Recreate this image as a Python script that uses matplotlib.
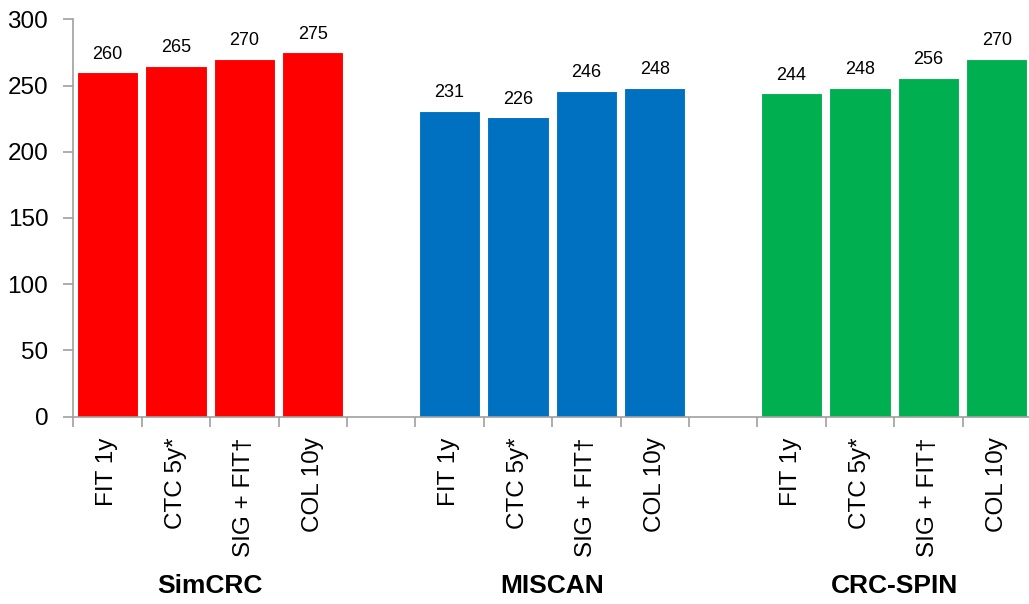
import matplotlib
matplotlib.use("Agg")
import matplotlib.pyplot as plt
import matplotlib.transforms as mtransforms
import numpy as np

plt.rcParams['font.family'] = ['Liberation Sans', 'DejaVu Sans']

# Strategy labels shared by every model
strategies = ["FIT 1y", "CTC 5y*", "SIG + FIT\u2020", "COL 10y"]
models = ["SimCRC", "MISCAN", "CRC-SPIN"]
simcrc = [260, 265, 270, 275]
miscan = [231, 226, 246, 248]
crcspin = [244, 248, 256, 270]
colors = ["#FF0000", "#0070C0", "#00B050"]
y_ticks = [0, 50, 100, 150, 200, 250, 300]

fig = plt.figure(figsize=(10.29, 6.04), dpi=100)
ax = fig.add_axes([73.3 / 1029, 1 - 416.7 / 604, 957.6 / 1029, 397.4 / 604])

series = [simcrc, miscan, crcspin]
group_size = len(strategies)
step = group_size + 1  # one empty slot between model groups

label_pos = []
label_txt = []
for g, (vals, col) in enumerate(zip(series, colors)):
    xs = np.arange(group_size) + g * step
    bars = ax.bar(xs, vals, width=0.9, color=col, edgecolor="white", linewidth=0.8, zorder=2)
    for b, v in zip(bars, vals):
        ax.annotate(f"{v}", (b.get_x() + b.get_width() / 2, v),
                    xytext=(0, 7), textcoords="offset points",
                    ha="center", va="bottom", fontsize=13)
    label_pos.extend(xs)
    label_txt.extend(strategies)

n_slots = step * len(series) - 1
ax.set_xlim(-0.5, n_slots - 0.5)
ax.set_ylim(0, 300)

# Tick marks on slot boundaries, labels at bar centres
ax.set_xticks(np.arange(-0.5, n_slots, 1.0))
ax.set_xticklabels([])
ax.set_xticks(label_pos, minor=True)
ax.set_xticklabels(label_txt, minor=True, rotation=90, fontsize=17.5, va="top", ha="center")
ax.tick_params(axis="x", which="major", direction="out", length=7, width=1.2, color="#a0a0a0")
ax.tick_params(axis="x", which="minor", length=0, pad=15)

ax.set_yticks(y_ticks)
ax.tick_params(axis="y", direction="out", length=7, width=1.2, color="#a0a0a0", labelsize=17.5, pad=11)

for side in ("top", "right"):
    ax.spines[side].set_visible(False)
for side in ("left", "bottom"):
    ax.spines[side].set_color("#a0a0a0")
    ax.spines[side].set_linewidth(1.2)

# Model names under each group
trans = mtransforms.blended_transform_factory(ax.transData, fig.transFigure)
for g, name in enumerate(models):
    cx = g * step + (group_size - 1) / 2
    fig.text(cx, 1 - 586 / 604, name, transform=trans, ha="center", va="center",
             fontsize=19, fontweight="bold")

fig.savefig("out.png", dpi=100)
